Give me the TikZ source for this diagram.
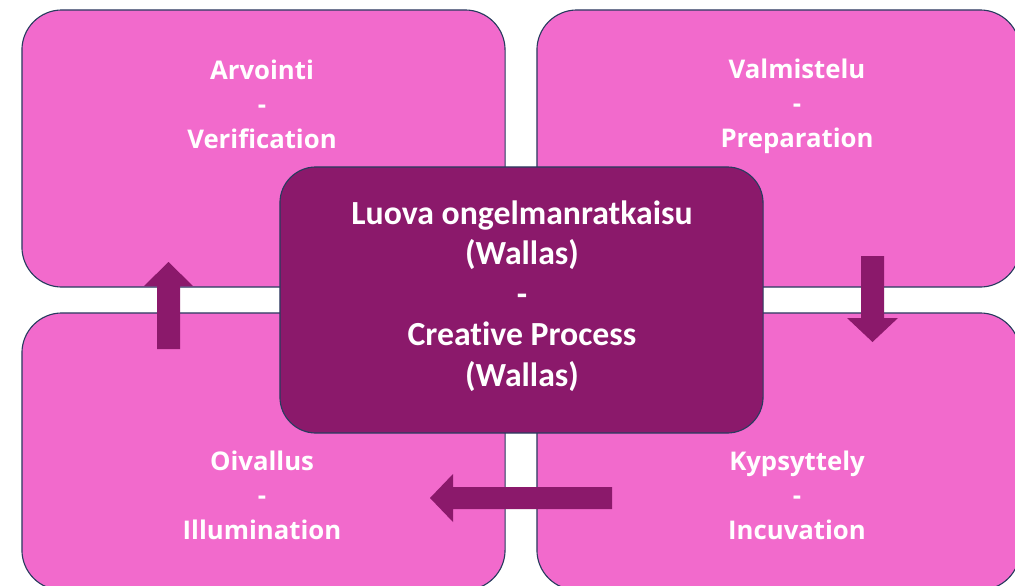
\documentclass[tikz,border=0pt]{standalone}
\usepackage{fontspec}
\newfontfamily\quadfont{Open Sans}
\newfontfamily\centerfont[Ligatures=NoCommon]{Carlito}

\definecolor{quadpink}{RGB}{242,106,204}
\definecolor{centerplum}{RGB}{139,25,107}
\definecolor{edgeblue}{RGB}{40,60,95}

\begin{document}
\begin{tikzpicture}[
        x=0.025cm, y=-0.025cm,
        quad/.style={rectangle, draw=edgeblue, line width=0.8pt, fill=quadpink, rounded corners=1cm, minimum width=12.075cm, minimum height=6.925cm},
        core/.style={rectangle, draw=edgeblue, line width=0.8pt, fill=centerplum, rounded corners=0.9cm, minimum width=12.075cm, minimum height=6.65cm},
        quadtext/.style={text=white, align=center, font=\quadfont\bfseries\fontsize{18.3}{24.5}\selectfont},
        coretext/.style={text=white, align=center, font=\centerfont\bfseries\fontsize{24}{28.8}\selectfont},
        blockarrow/.style={fill=centerplum}
    ]
        \useasboundingbox (0,0) rectangle (1015,586);
        \clip (0,0) rectangle (1015,586);
        \fill[white] (0,0) rectangle (1015,586);

        % Four phase boxes
        \node[quad] (verif_box) at (263.5,148.5) {};
        \node[quad] (prep_box) at (778.5,148.5) {};
        \node[quad] (illum_box) at (263.5,451.5) {};
        \node[quad] (incub_box) at (778.5,451.5) {};

        % Phase texts
        \node[quadtext] (verif_text) at (262,104) {Arvointi\\-\\Verification};
        \node[quadtext] (prep_text) at (797,106) {Valmistelu\\-\\Preparation};
        \node[quadtext] (illum_text) at (262,495) {Oivallus\\-\\Illumination};
        \node[quadtext] (incub_text) at (797,495) {Kypsyttely\\-\\Incuvation};

        % Centre box
        \node[core] (wallas_box) at (521.5,300) {};
        \node[coretext] (wallas_text) at (522,296) {Luova ongelmanratkaisu\\(Wallas)\\-\\Creative Process\\(Wallas)};

        % Block arrows
        \fill[blockarrow] (861,256) -- (884,256) -- (884,318) -- (898,318) -- (872.5,342) -- (847,318) -- (861,318) -- cycle;
        \fill[blockarrow] (612,487) -- (453,487) -- (453,474) -- (430,498) -- (453,522) -- (453,509) -- (612,509) -- cycle;
        \fill[blockarrow] (157,349) -- (157,286) -- (144,286) -- (168.5,262) -- (193,286) -- (180,286) -- (180,349) -- cycle;

    \end{tikzpicture}
\end{document}
